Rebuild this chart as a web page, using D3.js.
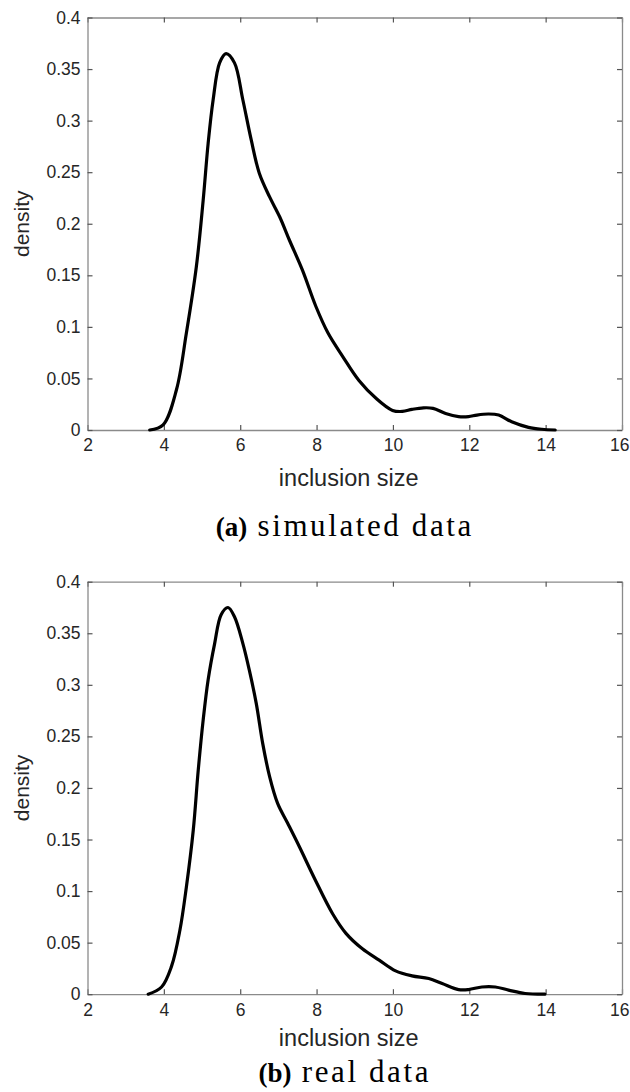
<!DOCTYPE html>
<html>
<head>
<meta charset="utf-8">
<script src="https://cdn.jsdelivr.net/npm/d3@7"></script>
<style>
  body { margin: 0; background: #fff; }
  svg { display: block; }
</style>
</head>
<body>
<div id="chart"></div>
<script>
// data
var simX = [3.63, 3.98, 4.33, 4.59, 4.85, 5.03, 5.16, 5.29, 5.46, 5.63, 5.85, 6.07, 6.29, 6.5, 6.77, 7.03, 7.29, 7.63, 7.98, 8.3, 8.69, 9.11, 9.55, 9.99, 10.25, 10.5, 10.8, 11.05, 11.38, 11.72, 11.98, 12.2, 12.5, 12.77, 13.11, 13.55, 13.9, 14.25];
var simY = [0, 0.005, 0.039, 0.094, 0.158, 0.223, 0.278, 0.32, 0.356, 0.365, 0.356, 0.32, 0.281, 0.249, 0.226, 0.207, 0.184, 0.155, 0.12, 0.094, 0.071, 0.048, 0.031, 0.019, 0.018, 0.02, 0.0215, 0.021, 0.016, 0.013, 0.013, 0.0145, 0.0155, 0.0145, 0.008, 0.0026, 0.0007, 0];

var realX = [3.59, 3.94, 4.2, 4.42, 4.59, 4.77, 4.9, 5.03, 5.16, 5.33, 5.5, 5.68, 5.85, 6.07, 6.24, 6.42, 6.59, 6.77, 6.98, 7.24, 7.55, 7.95, 8.42, 8.77, 9.2, 9.64, 10.07, 10.5, 10.94, 11.29, 11.72, 11.98, 12.33, 12.68, 13.03, 13.46, 13.98];
var realY = [0, 0.007, 0.027, 0.062, 0.104, 0.159, 0.217, 0.266, 0.305, 0.34, 0.368, 0.375, 0.366, 0.34, 0.314, 0.282, 0.243, 0.211, 0.185, 0.166, 0.143, 0.112, 0.078, 0.059, 0.044, 0.033, 0.0226, 0.0178, 0.0152, 0.0104, 0.0045, 0.0045, 0.007, 0.007, 0.004, 0.0007, 0];

var xTicks = [2, 4, 6, 8, 10, 12, 14, 16];
var yTicks = [0, 0.05, 0.1, 0.15, 0.2, 0.25, 0.3, 0.35, 0.4];
var xLabel = "inclusion size";
var yLabel = "density";
var captionTags = ["(a)", "(b)"];
var captionTexts = ["simulated data", "real data"];

//setup
var svgWidth = 630;
var svgHeight = 1092;
var left = 87.5, right = 622;
var panelTops = [17.5, 581.7];
var plotHeight = 412.5;

var svg = d3.select("#chart")
    .append("svg")
    .attr("width", svgWidth)
    .attr("height", svgHeight);

var x = d3.scaleLinear().domain([2, 16]).range([left, right]);

function drawPanel(i, xs, ys) {
    var top = panelTops[i];
    var bottom = top + plotHeight;
    var y = d3.scaleLinear().domain([0, 0.4]).range([bottom, top]);
    var g = svg.append("g");

    // bottom axis with labels
    var xAxis = g.append("g")
        .attr("transform", "translate(0," + bottom + ")")
        .call(d3.axisBottom(x).tickValues(xTicks).tickSizeInner(-5).tickSizeOuter(0).tickPadding(9).tickFormat(d3.format("d")));
    // last label sits at the page edge, keep it inside
    xAxis.selectAll(".tick text")
        .filter(function (d) { return d === 16; })
        .attr("text-anchor", "end")
        .attr("x", 629 - right);
    // top axis, ticks only
    g.append("g")
        .attr("transform", "translate(0," + top + ")")
        .call(d3.axisTop(x).tickValues(xTicks).tickSizeInner(-5).tickSizeOuter(0).tickFormat(""));
    // left axis with labels
    g.append("g")
        .attr("transform", "translate(" + left + ",0)")
        .call(d3.axisLeft(y).tickValues(yTicks).tickSizeInner(-5).tickSizeOuter(0).tickPadding(7).tickFormat(d3.format("")));
    // right axis, ticks only
    g.append("g")
        .attr("transform", "translate(" + right + ",0)")
        .call(d3.axisRight(y).tickValues(yTicks).tickSizeInner(-5).tickSizeOuter(0).tickFormat(""));

    g.selectAll(".domain").attr("stroke", "#8a8a8a").attr("stroke-width", 1.3);
    g.selectAll(".tick line").attr("stroke", "#555").attr("stroke-width", 1.2);
    g.selectAll(".tick text")
        .attr("fill", "#262626")
        .style("font-family", "'Liberation Sans', Arial, sans-serif")
        .style("font-size", "17.5px");

    // curve
    var line = d3.line()
        .x(function (d) { return x(d[0]); })
        .y(function (d) { return y(d[1]); })
        .curve(d3.curveCatmullRom.alpha(0.5));

    g.append("path")
        .datum(d3.zip(xs, ys))
        .attr("fill", "none")
        .attr("stroke", "#000")
        .attr("stroke-width", 3.2)
        .attr("stroke-linejoin", "round")
        .attr("stroke-linecap", "round")
        .attr("d", line);

    // axis titles
    g.append("text")
        .attr("x", (left + right) / 2 - 6)
        .attr("y", bottom + (i === 0 ? 56 : 52))
        .attr("text-anchor", "middle")
        .attr("fill", "#262626")
        .style("font-family", "'Liberation Sans', Arial, sans-serif")
        .style("font-size", "23.5px")
        .text(xLabel);

    g.append("text")
        .attr("transform", "translate(29," + (top + plotHeight / 2) + ") rotate(-90)")
        .attr("text-anchor", "middle")
        .attr("fill", "#262626")
        .style("font-family", "'Liberation Sans', Arial, sans-serif")
        .style("font-size", "21px")
        .text(yLabel);

    // caption
    var cap = g.append("text")
        .attr("x", (left + right) / 2 - 10)
        .attr("y", bottom + (i === 0 ? 106 : 88))
        .attr("text-anchor", "middle")
        .attr("fill", "#000")
        .style("font-family", "'Liberation Serif', 'Times New Roman', serif")
        .style("font-size", "31px");
    cap.append("tspan").attr("font-weight", "bold").style("font-size", "27px").text(captionTags[i]);
    cap.append("tspan").style("letter-spacing", "2.6px").text(" " + captionTexts[i]);
}

drawPanel(0, simX, simY);
drawPanel(1, realX, realY);
</script>
</body>
</html>
